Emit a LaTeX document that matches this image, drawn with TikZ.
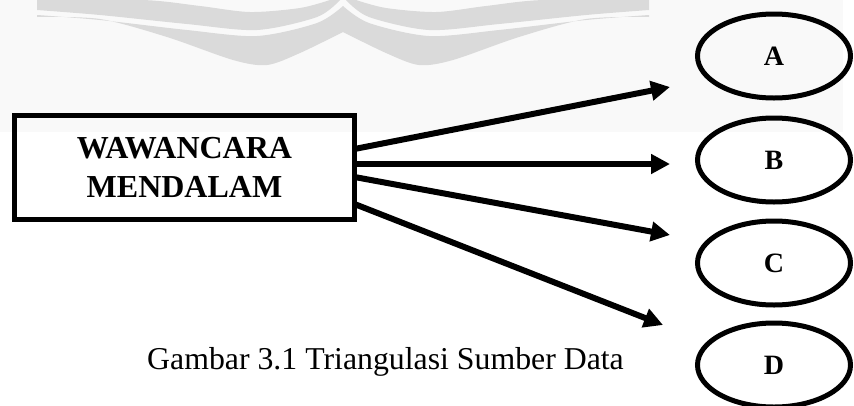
\documentclass[tikz,border=0pt]{standalone}
\usepackage{fontspec}
\setmainfont{Liberation Serif}
\usetikzlibrary{arrows.meta,shapes.geometric}
\definecolor{wm}{RGB}{218,218,218}
\definecolor{bgtop}{RGB}{249,249,249}
\begin{document}
\begin{tikzpicture}[x=1pt,y=-1pt,
  boxstyle/.style={draw, line width=5pt, rectangle, minimum width=340pt, minimum height=104pt, inner sep=0pt, align=center, font=\fontsize{32}{39}\selectfont\bfseries},
  ell/.style={draw, line width=5pt, ellipse, minimum width=153pt, minimum height=84pt, inner sep=0pt, font=\fontsize{28}{28}\selectfont\bfseries},
  arr/.style={line width=6pt, -{Triangle[length=19pt,width=19pt]}},
  wmband/.style={fill=wm}]
\useasboundingbox (0,0) rectangle (854,405);
\fill[bgtop] (0,0) rectangle (843,132);
% watermark (left half and mirrored right half)
\foreach \s/\o in {1/0,-1/686}{
\begin{scope}[shift={(\o,0)}, xscale=\s]
\fill[wmband] plot[smooth] coordinates {(37,15) (100,20) (187,30) (257,36) (317,23) (343,6)}
  -- plot[smooth] coordinates {(343,32) (300,53) (267,65) (233,60) (167,37) (100,19) (37,17)} -- cycle;
\fill[wmband] plot[smooth] coordinates {(37,0) (143,0) (200,6) (250,12) (300,8) (330,0)}
  -- plot[smooth] coordinates {(340,0) (317,17) (257,30) (187,24) (100,15) (37,10)} -- cycle;
\end{scope}}
\node[boxstyle] (box) at (184.5,167.5) {\raisebox{-2pt}{WAWANCARA}\\\raisebox{-2pt}{MENDALAM}};
\node[ell] (A) at (774,56) {A};
\node[ell] (B) at (774,160) {B};
\node[ell] (C) at (774,263) {C};
\node[ell] (D) at (774,365) {D};
\coordinate (sA) at (354.5,149);
\coordinate (sB) at (354.5,164);
\coordinate (sC) at (354.5,177);
\coordinate (sD) at (354.5,204);
\coordinate (tA) at (670,87);
\coordinate (tB) at (670,164);
\coordinate (tC) at (670,235);
\coordinate (tD) at (663,325);
\draw[arr] (sA) -- (tA);
\draw[arr] (sB) -- (tB);
\draw[arr] (sC) -- (tC);
\draw[arr] (sD) -- (tD);
\node[anchor=base west, inner sep=0pt, font=\fontsize{31.8}{38}\selectfont] (cap) at (147,369) {Gambar 3.1 Triangulasi Sumber Data};
\end{tikzpicture}
\end{document}
